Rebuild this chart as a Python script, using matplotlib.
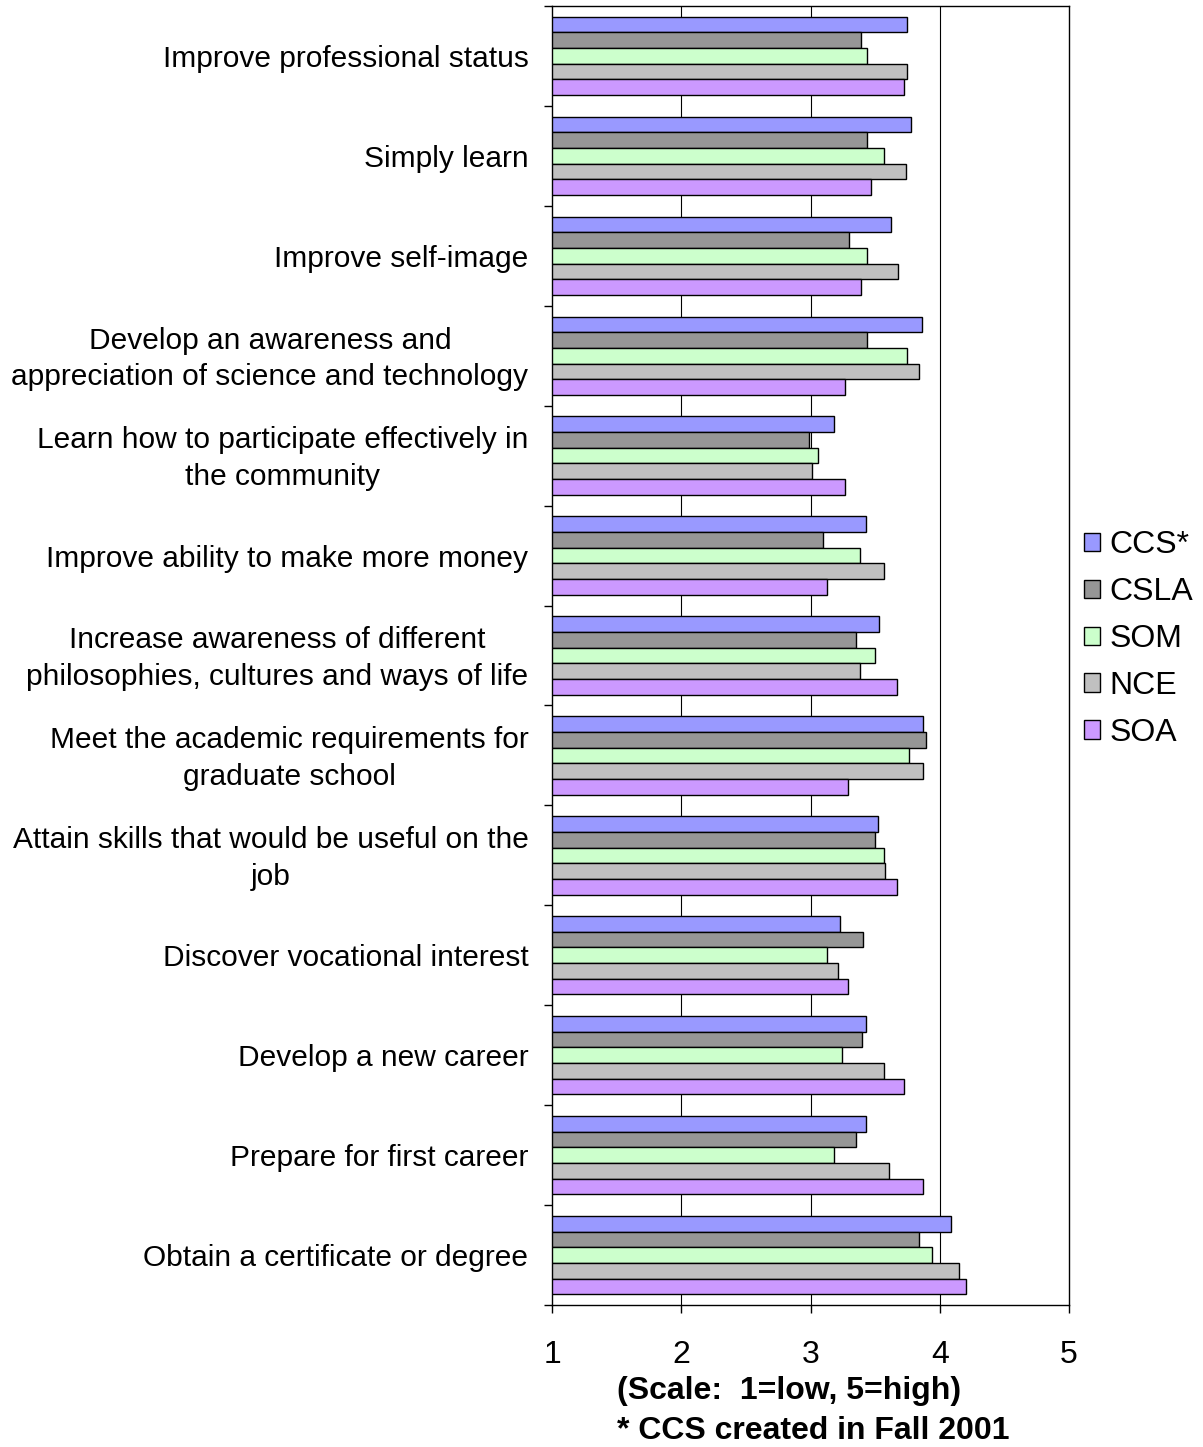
import numpy as np
import matplotlib.pyplot as plt
import matplotlib.transforms as mtransforms
from matplotlib.patches import Patch

plt.rcParams['font.family'] = ['Liberation Sans', 'DejaVu Sans']

categories = [
    "Improve professional status",
    "Simply learn",
    "Improve self-image",
    "Develop an awareness and\nappreciation of science and technology",
    "Learn how to participate effectively in\nthe community",
    "Improve ability to make more money",
    "Increase awareness of different\nphilosophies, cultures and ways of life",
    "Meet the academic requirements for\ngraduate school",
    "Attain skills that would be useful on the\njob",
    "Discover vocational interest",
    "Develop a new career",
    "Prepare for first career",
    "Obtain a certificate or degree",
]
series = ["CCS*", "CSLA", "SOM", "NCE", "SOA"]
colors = ["#9999FF", "#969696", "#CCFFCC", "#C0C0C0", "#CC99FF"]

ccs  = [3.75, 3.78, 3.62, 3.86, 3.18, 3.43, 3.53, 3.87, 3.52, 3.23, 3.43, 3.43, 4.09]
csla = [3.39, 3.44, 3.30, 3.44, 2.99, 3.10, 3.35, 3.89, 3.50, 3.41, 3.40, 3.35, 3.84]
som  = [3.44, 3.57, 3.44, 3.75, 3.06, 3.38, 3.50, 3.76, 3.57, 3.13, 3.24, 3.18, 3.94]
nce  = [3.75, 3.74, 3.68, 3.84, 3.01, 3.57, 3.38, 3.87, 3.58, 3.21, 3.57, 3.61, 4.15]
soa  = [3.72, 3.47, 3.39, 3.27, 3.27, 3.13, 3.67, 3.29, 3.67, 3.29, 3.72, 3.87, 4.20]
values = [ccs, csla, som, nce, soa]

W, H = 1203, 1447
fig = plt.figure(figsize=(W / 100, H / 100), dpi=100)
ax = fig.add_axes([552 / W, 1 - 1305 / H, (1069 - 552) / W, (1305 - 6) / H])

n = len(categories)
y = np.arange(n)
bh = 0.157
for i, (name, vals) in enumerate(zip(series, values)):
    off = (i - 2) * bh
    ax.barh(y + off, np.array(vals) - 1, left=1, height=bh, color=colors[i],
            edgecolor='black', linewidth=1.0, label=name, zorder=3)

ax.set_xlim(1, 5)
ax.set_ylim(n - 0.5, -0.5)
ax.set_xticks([1, 2, 3, 4, 5])
ax.tick_params(axis='x', labelsize=23, length=6, width=1, pad=19, direction='out')
for gx in [2, 3, 4]:
    ax.axvline(gx, color='black', linewidth=0.8, zorder=1)

ax.set_yticks(np.arange(n + 1) - 0.5)
ax.set_yticklabels([])
ax.tick_params(axis='y', which='major', length=6, width=1, direction='out')
ax.set_yticks(y, minor=True)
ax.set_yticklabels(categories, minor=True, fontsize=21.5, multialignment='center',
                   linespacing=1.4)
ax.tick_params(axis='y', which='minor', length=0, pad=17)
# two-line labels sit a little high in the original
up = mtransforms.ScaledTranslation(0, 3 / 72, fig.dpi_scale_trans)
for lab in ax.get_yticklabels(minor=True):
    if '\n' in lab.get_text():
        lab.set_transform(lab.get_transform() + up)

for s in ax.spines.values():
    s.set_linewidth(1.0)

fig.text(617 / W, 1 - 1391 / H, "(Scale:  1=low, 5=high)", fontsize=23,
         fontweight='bold', ha='left', va='center')
fig.text(617 / W, 1 - 1431 / H, "* CCS created in Fall 2001", fontsize=23,
         fontweight='bold', ha='left', va='center')

handles = [Patch(facecolor=c, edgecolor='black', linewidth=1.0) for c in colors]
fig.legend(handles, series, loc='center left', bbox_to_anchor=(1084 / W, 1 - 639 / H),
           frameon=False, fontsize=23, handlelength=0.5, handleheight=0.5,
           handletextpad=0.3, labelspacing=0.53, borderpad=0, borderaxespad=0)

fig.savefig("out.png", dpi=100)
